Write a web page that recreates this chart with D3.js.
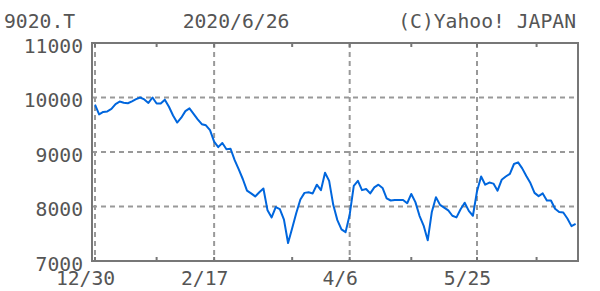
<!DOCTYPE html>
<html>
<head>
<meta charset="UTF-8">
<title>9020.T</title>
<style>
    body { margin: 0; background: #fff; }
    text { font-family: "DejaVu Sans Mono", monospace; font-size: 19.7px; fill: #555; }
    .grid line { stroke: #999; stroke-width: 2; stroke-dasharray: 5,4; }
    .axis path, .axis line { display: none; }
    .frame { fill: none; stroke: #777; stroke-width: 2; }
    .tick-mark { stroke: #777; stroke-width: 2; }
    .line { fill: none; stroke: #0066dd; stroke-width: 2; stroke-linejoin: round; }
</style>
</head>
<body>
<script src="https://cdn.jsdelivr.net/npm/d3@7"></script>
<script>
    var code = "9020.T", dateText = "2020/6/26", credit = "(C)Yahoo! JAPAN";

    // daily closes, trading-day index 0 = 12/30
    var prices = [
        9870, 9690, 9735, 9745, 9790, 9880, 9925, 9905, 9895, 9930,
        9970, 10000, 9965, 9900, 10000, 9890, 9890, 9960, 9830, 9670,
        9540, 9630, 9750, 9800, 9700, 9600, 9510, 9490, 9400, 9190,
        9090, 9165, 9050, 9060, 8850, 8680, 8500, 8290, 8240, 8185,
        8260, 8330, 7930, 7800, 7990, 7950, 7760, 7330, 7600, 7880,
        8130, 8250, 8260, 8240, 8400, 8300, 8620, 8470, 8030, 7750,
        7580, 7530, 7850, 8380, 8470, 8300, 8320, 8240, 8350, 8400,
        8340, 8150, 8110, 8120, 8120, 8120, 8060, 8230, 8080, 7830,
        7650, 7380, 7900, 8170, 8030, 7980, 7930, 7830, 7800, 7950,
        8070, 7920, 7830, 8280, 8550, 8400, 8440, 8420, 8290, 8490,
        8550, 8600, 8780, 8810, 8700, 8560, 8430, 8250, 8190, 8240,
        8110, 8110, 7960, 7900, 7890, 7780, 7640, 7680
    ];
    var dateTicks = [0, 29, 62, 93];
    var dateLabels = ["12/30", "2/17", "4/6", "5/25"];
    var minorTicks = [15, 48, 77, 107.5];
    var priceTicks = [7000, 8000, 9000, 10000, 11000];

    var width = 600, height = 291;
    var plot = {left: 92, right: 578, top: 43, bottom: 261};

    var x = d3.scaleLinear().domain([0, prices.length - 1]).range([95, 575.6]);
    var y = d3.scaleLinear().domain([7000, 11000]).range([plot.bottom, plot.top]);

    var svg = d3.select("body").append("svg")
        .attr("width", width)
        .attr("height", height);

    // header
    svg.append("text").attr("x", 4).attr("y", 27.5).text(code);
    svg.append("text").attr("x", 236).attr("y", 27.5)
        .style("text-anchor", "middle").text(dateText);
    svg.append("text").attr("x", 576).attr("y", 27.5)
        .style("text-anchor", "end").text(credit);

    // grid
    var grid = svg.append("g").attr("class", "grid");
    grid.selectAll(null)
        .data(priceTicks.slice(1, -1))
        .enter().append("line")
        .attr("x1", plot.left).attr("x2", plot.right)
        .attr("y1", (d) => y(d)).attr("y2", (d) => y(d));
    grid.selectAll(null)
        .data(dateTicks)
        .enter().append("line")
        .attr("x1", (d) => x(d)).attr("x2", (d) => x(d))
        .attr("y1", plot.top).attr("y2", plot.bottom);

    // tick marks top and bottom
    var allTicks = dateTicks.concat(minorTicks);
    [[plot.top, plot.top + 4], [plot.bottom, plot.bottom - 4]].forEach(function(p) {
        svg.selectAll(null)
            .data(allTicks)
            .enter().append("line")
            .attr("class", "tick-mark")
            .attr("x1", (d) => x(d)).attr("x2", (d) => x(d))
            .attr("y1", p[0]).attr("y2", p[1]);
    });

    // price line
    var line = d3.line()
        .x((d, i) => x(i))
        .y((d) => y(d));

    svg.append("path")
        .datum(prices)
        .attr("class", "line")
        .attr("d", line);

    // frame
    svg.append("rect")
        .attr("class", "frame")
        .attr("x", plot.left).attr("y", plot.top)
        .attr("width", plot.right - plot.left).attr("height", plot.bottom - plot.top);

    // axis labels
    svg.append("g")
        .attr("class", "y axis")
        .attr("transform", `translate(${plot.left},0)`)
        .call(d3.axisLeft(y).tickValues(priceTicks).tickSize(0).tickPadding(9)
            .tickFormat(d3.format("d")))
        .selectAll("text")
        .attr("dy", "0.48em");

    svg.append("g")
        .attr("class", "x axis")
        .attr("transform", `translate(0,${plot.bottom})`)
        .call(d3.axisBottom(x).tickValues(dateTicks).tickSize(0).tickPadding(10)
            .tickFormat((d, i) => dateLabels[i]))
        .selectAll("text")
        .attr("x", -10)
        .attr("dy", "0.71em");

    svg.selectAll(".axis").attr("font-size", null).attr("font-family", null);
</script>
</body>
</html>
